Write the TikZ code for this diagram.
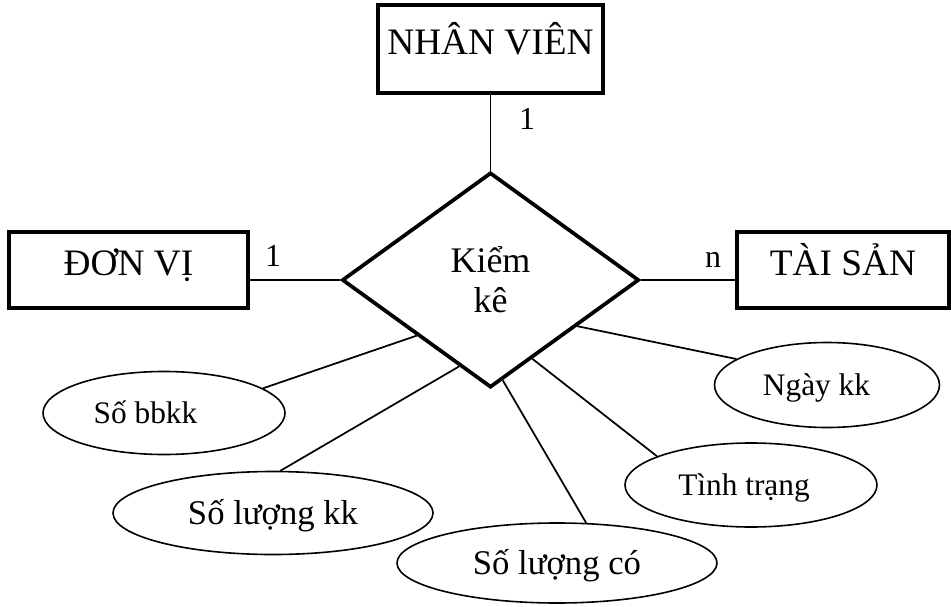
\documentclass[tikz,border=0pt]{standalone}
\usepackage{fontspec}
\setmainfont{Liberation Serif}
\usetikzlibrary{shapes.geometric}
\begin{document}
\begin{tikzpicture}[x=0.75pt,y=-0.75pt,
  entity/.style={draw,line width=2.6pt,rectangle,inner sep=0pt,
    text height=19pt,text depth=11pt,font=\fontsize{28}{33}\selectfont},
  relation/.style={draw,line width=2.8pt,diamond,inner sep=0pt,
    minimum width=222.75pt,minimum height=161.25pt,align=center,
    font=\fontsize{27}{30}\selectfont},
  attr/.style={draw,line width=1.2pt,ellipse,inner sep=0pt,
    text height=17pt,text depth=1pt,font=\fontsize{23.5}{28}\selectfont},
  bigattr/.style={attr,text height=18pt,font=\fontsize{26}{30}\selectfont},
  card/.style={inner sep=0pt,font=\fontsize{24}{28}\selectfont},
  link/.style={line width=1.3pt}]
\useasboundingbox (0,0) rectangle (951,607);

% entities
\node[entity,minimum width=168.75pt,minimum height=66pt] (nv) at (490.5,49) {NHÂN VIÊN};
\node[entity,minimum width=179.25pt,minimum height=57pt] (dv) at (128.5,270) {ĐƠN VỊ};
\node[entity,minimum width=159pt,minimum height=57pt] (ts) at (843,270) {TÀI SẢN};

% relationship
\node[relation] (kk) at (490.5,280) {Kiểm\\kê};

% attributes
\node[attr,minimum width=181.5pt,minimum height=62.25pt] (sb) at (164,413) {Số bbkk\hspace*{27.75pt}};
\node[bigattr,minimum width=240pt,minimum height=62.25pt] (slkk) at (273,513) {Số lượng kk};
\node[bigattr,minimum width=240pt,minimum height=60pt] (slc) at (557,563) {Số lượng có};
\node[attr,minimum width=189pt,minimum height=63pt] (tt) at (751,485) {Tình trạng\hspace*{10.5pt}};
\node[attr,minimum width=168.75pt,minimum height=63.75pt] (nk) at (827,385) {Ngày kk\hspace*{15.75pt}};

% cardinalities
\node[card] (c1) at (527,119) {1};
\node[card] (c2) at (273,256) {1};
\node[card] (c3) at (713,259.5) {n};

% relationship lines
\draw[link] (kk.north) -- (kk.north |- nv.south);
\draw[link] (kk.west) -- (kk.west -| dv.east);
\draw[link] (kk.east) -- (kk.east -| ts.west);

% attribute lines
\draw[link] (sb.14.7) -- (kk.-143.5);
\draw[link] (slkk.80.5) -- (kk.-110.2);
\draw[link] (slc.54.1) -- (kk.-83.9);
\draw[link] (tt.163.7) -- (kk.-62.3);
\draw[link] (nk.164.2) -- (kk.-28.6);
\end{tikzpicture}
\end{document}
